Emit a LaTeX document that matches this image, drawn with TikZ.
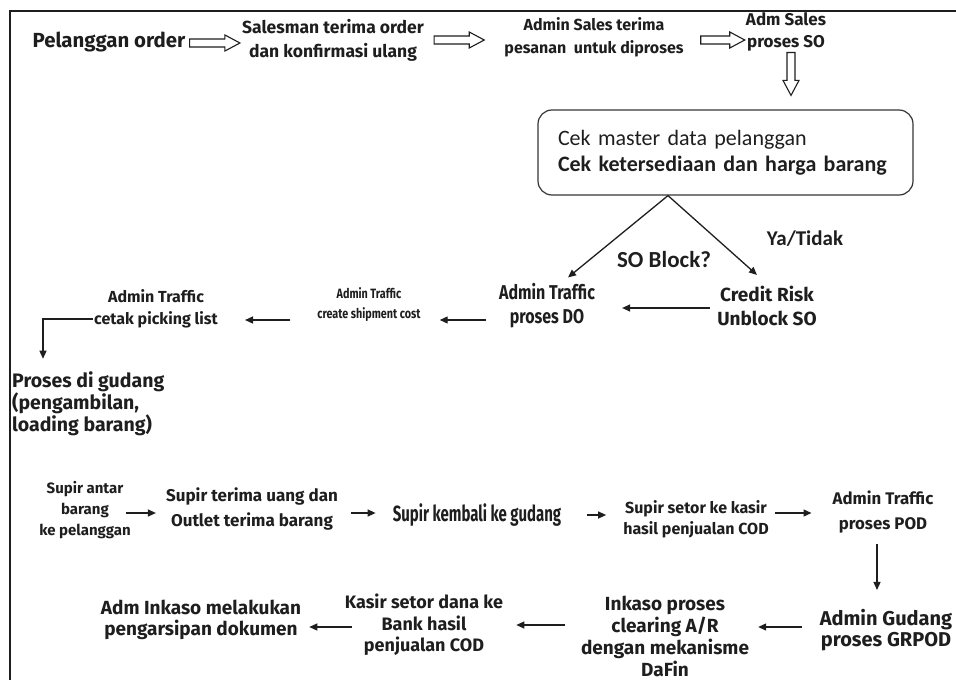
\documentclass[tikz,border=0pt]{standalone}
\usepackage{fontspec}
\setmainfont{Fira Sans}
\newfontfamily\narrowfont{Fira Sans}[FakeStretch=0.8]
\newfontfamily\tightfont{Fira Sans}[FakeStretch=0.68]
\newfontfamily\calfont{Carlito}
\usepackage{tikz}
\usetikzlibrary{positioning,calc,arrows.meta}

\definecolor{ink}{HTML}{1E1E1E}
\newcommand{\fsz}[2]{\fontsize{#1}{#2}\selectfont}

\begin{document}
\begin{tikzpicture}[
    x=1pt, y=-1pt,
    lbl/.style={align=center, inner sep=1pt, text=ink},
    chkbox/.style={draw=ink!90,
                   line width=1.2pt,
                   rounded corners=14pt,
                   text width=335pt,
                   inner xsep=20pt,
                   minimum height=85pt,
                   align=left,
                   text=ink,
                   font=\calfont\fsz{22}{26}},
    conn/.style={-{Triangle[length=8pt,width=7pt]}, line width=1.3pt, draw=ink},
    % outlined block arrow, rightwards: #1 = gap at start, #2 = gap at end
    hollow/.style 2 args={draw=ink, fill=white, line width=1.1pt,
        to path={let \p1=(\tikztostart), \p2=(\tikztotarget) in
            (\x1+#1,\y1+4pt) -- (\x2-#2-15pt,\y1+4pt) -- (\x2-#2-15pt,\y1+8pt)
            -- (\x2-#2,\y1) -- (\x2-#2-15pt,\y1-8pt) -- (\x2-#2-15pt,\y1-4pt)
            -- (\x1+#1,\y1-4pt) -- cycle}},
    % the same, downwards
    hollowdown/.style 2 args={draw=ink, fill=white, line width=1.1pt,
        to path={let \p1=(\tikztostart), \p2=(\tikztotarget) in
            (\x1+4pt,\y1-#1) -- (\x1+4pt,\y2+#2+15pt) -- (\x1+8pt,\y2+#2+15pt)
            -- (\x1,\y2+#2) -- (\x1-8pt,\y2+#2+15pt) -- (\x1-4pt,\y2+#2+15pt)
            -- (\x1-4pt,\y1-#1) -- cycle}},
    frame/.style={line width=1.2pt, draw=ink}
]
\useasboundingbox (0,0) rectangle (956,680);
\draw[frame] (10,680) -- (10,11) -- (956,11);

% top row
\node[lbl, font=\bfseries\fsz{20.4}{22}] (pel) at (109,42) {Pelanggan order};
\node[lbl, font=\bfseries\fsz{17.5}{24}] (sal) at (333,40) {Salesman terima order\\dan konfirmasi ulang};
\node[lbl, font=\bfseries\fsz{16}{23}] (adm) at (594,37) {Admin Sales terima\\pesanan\ \ untuk diproses};
\node[lbl, font=\bfseries\fsz{17}{22}] (so) at (786,32) {Adm Sales\\proses SO};

% check box
\node[chkbox] (chk) at (725.5,152.5) {Cek master data pelanggan\\\textbf{Cek ketersediaan dan harga barang}};
\coordinate (fork) at ([xshift=-57.5pt]chk.south);

\draw[hollow={3pt}{1pt}] (pel.east |- 0,43) to (sal.west |- 0,43);
\draw[hollow={9pt}{19pt}] (sal.east |- 0,40) to (adm.west |- 0,40);
\draw[hollow={16pt}{0pt}] (adm.east |- 0,40) to (so.west |- 0,40);
\draw[hollowdown={0pt}{14pt}] (so.south -| 791,0) to (chk.north -| 791,0);

% middle row
\node[lbl, font=\narrowfont\bfseries\fsz{20}{24}] (do) at (547,306) {Admin Traffic\\proses DO};
\node[lbl, font=\bfseries\fsz{19}{24}] (cr) at (767,306) {Credit Risk\\Unblock SO};
\node[lbl, font=\narrowfont\bfseries\fsz{13.5}{20}] (ship) at (369,305) {Admin Traffic\\create shipment cost};
\node[lbl, font=\bfseries\fsz{16}{22}] (pick) at (156,309) {Admin Traffic\\cetak picking list};
\node[lbl, align=left, anchor=west, font=\bfseries\fsz{19.5}{22}] (proc) at (11,404) {Proses di gudang\\(pengambilan,\\loading barang)};

\node[font=\calfont\bfseries\fsz{23}{26}, text=ink] (blk) at (664,260) {SO Block?};
\node[font=\calfont\bfseries\fsz{21}{24}, text=ink] (yt) at (805,239) {Ya/Tidak};

\draw[conn] (fork) -- ([xshift=21pt,yshift=5pt]do.north);
\draw[conn] (fork) -- ([xshift=-10pt,yshift=10pt]cr.north);

\draw[conn, shorten <=6pt, shorten >=26pt] (cr.west |- 0,308) -- (do.east |- 0,308);
\draw[conn, shorten <=12pt, shorten >=18pt] (do.west |- 0,320) -- (ship.east |- 0,320);
\draw[conn, shorten <=26pt, shorten >=26pt] (ship.west |- 0,320) -- (pick.east |- 0,320);

\coordinate (bend) at (43,319);
\draw[conn, shorten >=12pt] (pick.west |- bend) -- (bend) -- (bend |- proc.north);

% bottom rows
\node[lbl, font=\bfseries\fsz{15}{21}] (sa) at (85,510) {Supir antar\\barang\\ke pelanggan};
\node[lbl, font=\bfseries\fsz{17}{25}] (st) at (252,509) {Supir terima uang dan\\Outlet terima barang};
\node[lbl, font=\tightfont\bfseries\fsz{22}{24}] (kem) at (477,515) {Supir kembali ke gudang};
\node[lbl, font=\bfseries\fsz{16}{21}] (set) at (696,519) {Supir setor ke kasir\\hasil penjualan COD};
\node[lbl, font=\bfseries\fsz{16.8}{25}] (pod) at (883,512) {Admin Traffic\\proses POD};
\node[lbl, font=\bfseries\fsz{20}{21}] (grp) at (886,630) {Admin Gudang\\proses GRPOD};
\node[lbl, font=\bfseries\fsz{19}{22}] (ink) at (665,636) {Inkaso proses\\clearing A/R\\dengan mekanisme\\DaFin};
\node[lbl, font=\bfseries\fsz{18}{21.5}] (kas) at (424,625) {Kasir setor dana ke\\Bank hasil\\penjualan COD};
\node[lbl, font=\bfseries\fsz{19}{21}] (arsip) at (201,620) {Adm Inkaso melakukan\\pengarsipan dokumen};

\draw[conn, shorten <=-6pt, shorten >=9pt] (sa.east |- 0,513) -- (st.west |- 0,513);
\draw[conn, shorten <=12pt, shorten >=16pt] (st.east |- 0,513) -- (kem.west |- 0,513);
\draw[conn, shorten <=25pt, shorten >=16pt] (kem.east |- 0,515) -- (set.west |- 0,515);
\draw[conn, shorten <=5pt, shorten >=20pt] (set.east |- 0,513) -- (pod.west |- 0,513);
\draw[conn, shorten <=10pt, shorten >=18pt] (pod.south -| 877,0) -- (grp.north -| 877,0);
\draw[conn, shorten <=17pt, shorten >=8pt] (grp.west |- 0,627) -- (ink.east |- 0,627);
\draw[conn, shorten <=15pt, shorten >=12pt] (ink.west |- 0,625) -- (kas.east |- 0,625);
\draw[conn, shorten <=-8pt, shorten >=7pt] (kas.west |- 0,627) -- (arsip.east |- 0,627);
\end{tikzpicture}
\end{document}
